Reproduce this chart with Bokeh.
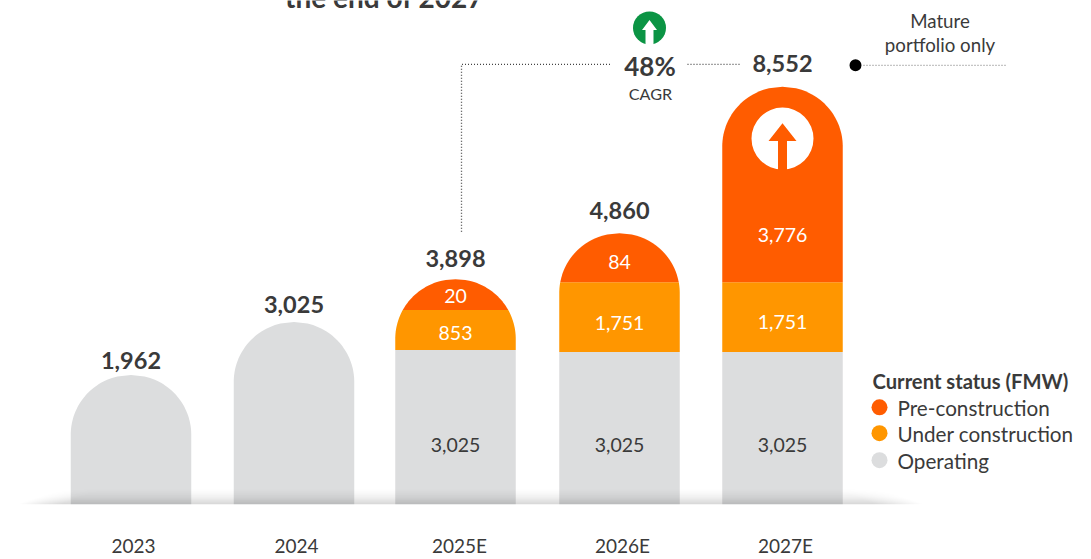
import numpy as np
from bokeh.plotting import figure
from bokeh.models import Range1d, LinearAxis, FixedTicker
from bokeh.core.properties import value
from bokeh.embed import file_html
from bokeh.resources import INLINE

# ---- data ----
categories = ["2023", "2024", "2025E", "2026E", "2027E"]
operating = [1962, 3025, 3025, 3025, 3025]
under_construction = [None, None, 853, 1751, 1751]
pre_construction = [None, None, 20, 84, 3776]
totals = [1962, 3025, 3898, 4860, 8552]
# The source's bars are not drawn to scale: heights,
# expressed on the scale of the tallest bar.
operating_drawn = [2653, 3735, 3164, 3123, 3123]
under_drawn = [0, 0, 816, 1429, 1429]
pre_drawn = [0, 0, 633, 1000, 4000]
legend_labels = ["Pre-construction", "Under construction", "Operating"]

# ---- style ----
RED, ORANGE, GREY, GREEN = "#FF5C00", "#FF9600", "#DCDDDE", "#0B9444"
DARK, FONT = "#3A3A3A", "Lato"
W, H, BASE = 1091, 559, 505.5
K = 8552 / 419          # value units per pixel
STEP = 163              # pixels between categories
X0 = 133                # pixel of first tick label
BAR_SHIFT = [-2.5, -2.5, -4, -3, -3]
BAR_W, R = 120.5, 60

p = figure(width=W, height=H, output_backend="svg", toolbar_location=None,
           x_range=Range1d(-X0 / STEP, (W - X0) / STEP), y_range=Range1d(0, BASE * K),
           x_axis_location=None, y_axis_location=None,
           min_border_left=0, min_border_right=0, min_border_top=0, min_border_bottom=int(H - BASE),
           margin=(0, 0, 0, 0))
p.background_fill_color = "white"
p.border_fill_color = "white"
p.outline_line_color = None
p.grid.visible = False
p.extra_x_ranges["px"] = Range1d(0, W)
p.extra_y_ranges["px"] = Range1d(BASE, 0)

axis = LinearAxis(ticker=FixedTicker(ticks=list(range(5))),
                  major_label_overrides={i: c for i, c in enumerate(categories)})
axis.axis_line_color = None
axis.major_tick_line_color = None
axis.minor_tick_line_color = None
axis.major_label_standoff = 23
axis.major_label_text_font = FONT
axis.major_label_text_font_size = "19px"
axis.major_label_text_color = DARK
p.add_layout(axis, "below")


def seg_poly(cx, lo, hi, top):
    """Polygon of a stack segment clipped to the domed top of its bar (pixels above base)."""
    c = top - R
    ys = np.unique(np.concatenate([[lo, hi], np.linspace(max(lo, c), hi, 40)])) if hi > c else np.array([lo, hi])
    ys = ys[(ys >= lo) & (ys <= hi)]
    hw = np.where(ys <= c, BAR_W / 2, BAR_W / 2 * np.sqrt(np.clip(1 - ((ys - c) / R) ** 2, 0, 1)))
    xs = np.concatenate([cx - hw, (cx + hw)[::-1]])
    yy = np.concatenate([ys, ys[::-1]])
    return list(xs / STEP), list(yy * K)


xs_, ys_, cols = [], [], []
for i in range(5):
    cx = i * STEP + BAR_SHIFT[i]
    a, b, c = operating_drawn[i] / K, under_drawn[i] / K, pre_drawn[i] / K
    top = a + b + c
    for lo, hi, col in [(0, a, GREY), (a, a + b, ORANGE), (a + b, top, RED)]:
        if hi > lo:
            x, y = seg_poly(cx, lo, hi, top)
            xs_.append(x); ys_.append(y); cols.append(col)
p.patches(xs_, ys_, fill_color=cols, line_color=None)

# floor shadow, a soft gradient across the base of the bars
sh_h, sh_w = 18, 1000
yy, xx = np.mgrid[0:sh_h, 0:sh_w]
t = 1 - (yy + 0.5) / sh_h
A = 0.17 * t ** 2.0
lead = 25 + 50 * (1 - t)
trail = 925 - 50 * (1 - t)
edge = np.clip((xx - lead + 10) / 45, 0, 1) * np.clip((trail - xx) / 50, 0, 1)
alpha = (255 * A * edge).astype(np.uint32)
p.image_rgba(image=[alpha << 24], x=0, y=0, dw=sh_w, dh=sh_h * K, x_range_name="px")

# value labels
def centre(i):
    return i + BAR_SHIFT[i] / STEP

tops = [(a + b + c) for a, b, c in zip(operating_drawn, under_drawn, pre_drawn)]
gaps = [14, 18, 21, 23, 23]
p.text([centre(i) for i in range(5)], [tops[i] + gaps[i] * K for i in range(5)],
       text=[f"{v:,}" for v in totals], text_font=value(FONT), text_font_style="bold",
       text_font_size="23.5px", text_color=DARK, text_align="center", text_baseline="middle")

p.text([centre(i) for i in range(2, 5)], [60 * K] * 3,
       text=[f"{v:,}" for v in operating[2:]], text_font=value(FONT), text_font_size="19.5px",
       text_color=DARK, text_align="center", text_baseline="middle")

under_y = [505 - 333, 505 - 323, 505 - 322]
p.text([centre(i) for i in range(2, 5)], [v * K for v in under_y],
       text=[f"{v:,}" for v in under_construction[2:]], text_font=value(FONT), text_font_size="19.5px",
       text_color="white", text_align="center", text_baseline="middle")
pre_y = [505 - 296, 505 - 262, 505 - 235]
p.text([centre(i) for i in range(2, 5)], [v * K for v in pre_y],
       text=[f"{v:,}" for v in pre_construction[2:]], text_font=value(FONT), text_font_size="19.5px",
       text_color="white", text_align="center", text_baseline="middle")

PX = dict(x_range_name="px", y_range_name="px")


def txt(x, y, s, size, bold=False, color=DARK, align="center", baseline="middle"):
    p.text([x], [y], text=[s], text_font=value(FONT), text_font_size=size,
           text_font_style="bold" if bold else "normal", text_color=color,
           text_align=align, text_baseline=baseline, **PX)


def arrow_icon(cx, cy, r, fill, arrow, apex, head_y, head_hw, stem_hw):
    """Round badge with an upward arrow whose stem runs out through the bottom."""
    p.circle([cx], [cy], radius=r, fill_color=fill, line_color=None, **PX)
    p.patch([cx, cx + head_hw, cx + stem_hw, cx + stem_hw, cx - stem_hw, cx - stem_hw, cx - head_hw],
            [apex, head_y, head_y, cy + r + 1, cy + r + 1, head_y, head_y],
            fill_color=arrow, line_color=None, **PX)


# clipped headline at the top edge
txt(384, -4, "the end of 2027", "28px", bold=True, baseline="alphabetic")

# CAGR callout
p.line([461, 461, 610], [232, 64, 64], line_color="#444444", line_width=1.3, line_dash="1 2", **PX)
p.line([687, 740], [64, 64], line_color="#444444", line_width=1.3, line_dash="1 2", **PX)
arrow_icon(649, 27.5, 16.5, GREEN, "white", 19.5, 29.5, 7.5, 4)
txt(649.5, 66, "48%", "26px", bold=True)
txt(650, 93, "CAGR", "16.2px")

# Mature portfolio note
txt(939.5, 20.5, "Mature", "18.7px")
txt(939.5, 44.5, "portfolio only", "18.7px")
p.scatter([855], [65], size=12, marker="circle", fill_color="black", line_color=None, **PX)
p.line([863, 1005], [65, 65], line_color="#8A8A8A", line_width=1.3, line_dash="1 2", **PX)

# Badge inside the tallest bar
arrow_icon(782, 138.5, 31, "white", RED, 123, 141, 14, 4.5)

# legend
txt(872, 382, "Current status (FMW)", "20.2px", bold=True, align="left")
for y, lab, col in zip([408, 434, 461], legend_labels, [RED, ORANGE, GREY]):
    p.scatter([879], [y], size=16, marker="circle", fill_color=col, line_color=None, **PX)
    txt(897, y + 1, lab, "20.7px", align="left")

open("out.html", "w").write(file_html(p, INLINE))
